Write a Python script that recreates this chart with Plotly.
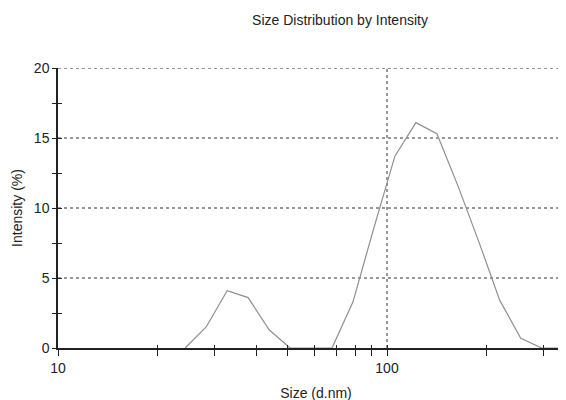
import plotly.graph_objects as go

# Size bins (d.nm) and intensity (%)
size_nm = [24.36, 28.21, 32.67, 37.84, 43.82, 50.75, 58.77, 68.06, 78.82, 91.28,
           105.7, 122.4, 141.8, 164.2, 190.1, 220.2, 255.0, 295.3, 342.0, 396.1]
intensity = [0.0, 1.5, 4.1, 3.6, 1.3, 0.0, 0.0, 0.0, 3.3, 8.6,
             13.7, 16.1, 15.3, 11.6, 7.6, 3.4, 0.7, 0.0, 0.0, 0.0]

x_tickvals = [10, 20, 30, 40, 50, 60, 70, 80, 90, 100, 200, 300]
x_ticktext = ["10", "", "", "", "", "", "", "", "", "100", "", ""]
y_tickvals = [0, 2.5, 5, 7.5, 10, 12.5, 15, 17.5, 20]
y_ticktext = ["0", "", "5", "", "10", "", "15", "", "20"]

FONT = "Liberation Sans, Arial, sans-serif"

fig = go.Figure()
fig.add_trace(go.Scatter(x=size_nm, y=intensity, mode="lines",
                         line=dict(color="#8f8f8f", width=1.2),
                         showlegend=False, hoverinfo="x+y"))
# invisible trace for the overlay axes carrying inward tick marks
fig.add_trace(go.Scatter(x=[10], y=[0], xaxis="x2", yaxis="y2", mode="markers",
                         marker=dict(opacity=0), showlegend=False, hoverinfo="skip"))

xr = [1, 1 + 516 / 329]
fig.update_layout(
    width=566, height=400,
    margin=dict(l=50, r=0, t=60, b=60),
    paper_bgcolor="white", plot_bgcolor="white",
    font=dict(family=FONT, size=14, color="#222"),
    title=dict(text="Size Distribution by Intensity", x=332 / 566, xanchor="center",
               y=1 - 12 / 400, yanchor="middle", font=dict(size=14, color="#222")),
    xaxis=dict(type="log", range=xr, tickmode="array", tickvals=x_tickvals,
               ticktext=x_ticktext, ticks="outside", ticklen=6, tickcolor="#222",
               showline=True, linecolor="#222", linewidth=1.5,
               showgrid=False, zeroline=False,
               title=dict(text="Size (d.nm)", font=dict(size=14), standoff=14),
               tickfont=dict(size=14)),
    yaxis=dict(range=[0, 20], tickmode="array", tickvals=y_tickvals,
               ticktext=y_ticktext, ticks="outside", ticklen=4, tickcolor="#222",
               showline=True, linecolor="#222", linewidth=1.5,
               showgrid=False, zeroline=False,
               title=dict(text="Intensity (%)", font=dict(size=14), standoff=8),
               tickfont=dict(size=14)),
    xaxis2=dict(type="log", range=xr, overlaying="x", anchor="y2", side="bottom",
                tickmode="array", tickvals=x_tickvals, showticklabels=False,
                ticks="inside", ticklen=3, tickcolor="#222",
                showgrid=False, zeroline=False, showline=False),
    yaxis2=dict(range=[0, 20], overlaying="y", anchor="x2", side="left",
                tickmode="array", tickvals=y_tickvals, showticklabels=False,
                ticks="inside", ticklen=4, tickcolor="#222",
                showgrid=False, zeroline=False, showline=False),
)

# dotted grid lines at labelled values
grid_y = [5, 10, 15, 20]
grid_x = [100]
for gy in grid_y:
    fig.add_shape(type="line", xref="paper", yref="y", x0=0, x1=1, y0=gy, y1=gy,
                  line=dict(color="#333", width=1, dash="dot"), layer="below")
for gx in grid_x:
    fig.add_shape(type="line", xref="x", yref="paper", x0=gx, x1=gx, y0=0, y1=1,
                  line=dict(color="#333", width=1, dash="dot"), layer="below")

fig.write_html("out.html")
